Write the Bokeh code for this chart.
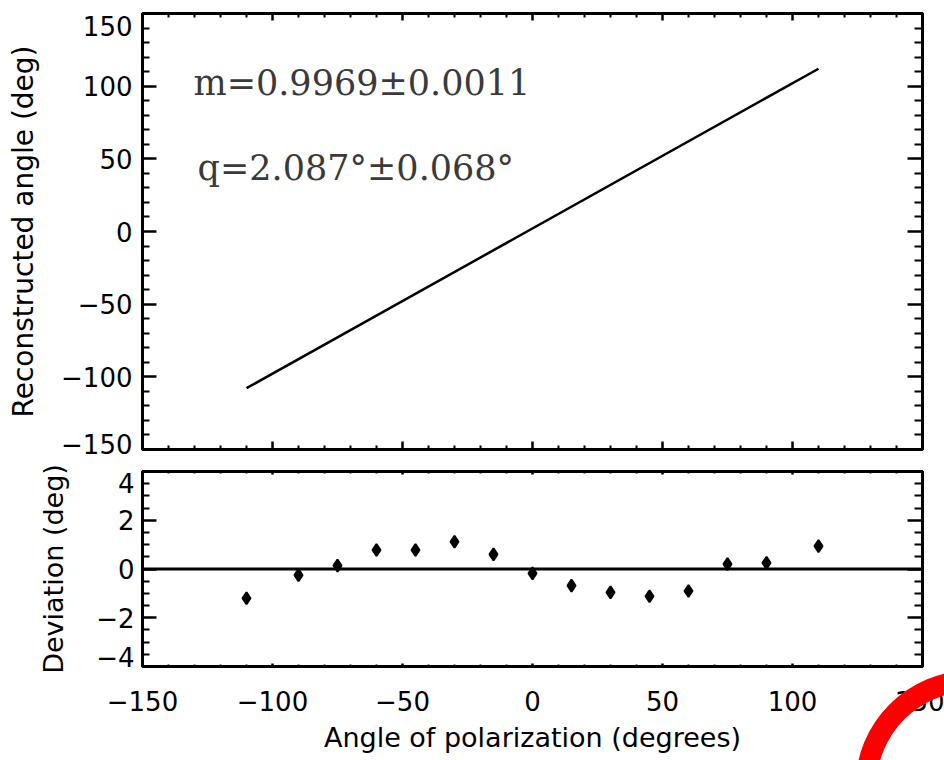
from bokeh.plotting import figure
from bokeh.models import LinearAxis, FixedTicker, Span, Label, Range1d, GridBox
from bokeh.embed import file_html
from bokeh.resources import INLINE

# ---------------- data ----------------
line_x = [-110, 110]
line_y = [-107.8, 112.0]

pol_angle = [-110, -90, -75, -60, -45, -30, -15, 0, 15, 30, 45, 60, 75, 90, 110]
deviation = [-1.20, -0.25, 0.14, 0.78, 0.78, 1.12, 0.60, -0.18, -0.68, -0.96,
             -1.12, -0.90, 0.20, 0.25, 0.94]

x_ticks = [-150, -100, -50, 0, 50, 100, 150]
x_tick_labels = ["\u2212150", "\u2212100", "\u221250", "0", "50", "100", "150"]

top_y_ticks = [-150, -100, -50, 0, 50, 100, 150]
top_y_tick_labels = ["\u2212150", "\u2212100", "\u221250", "0", "50", "100", "150"]
# where the reference prints the tick labels (edge labels are pulled inward)
top_y_label_pos = [-145.9, -100, -50, 0, 50, 100, 141.7]

bot_y_ticks = [-4, -2, 0, 2, 4]
bot_y_tick_labels = ["\u22124", "\u22122", "0", "2", "4"]
bot_y_label_pos = [-3.63, -2, 0, 2, 3.51]

fit_text = ["m=0.9969\u00b10.0011", "q=2.087\u00b0\u00b10.068\u00b0"]

x_title = "Angle of polarization (degrees)"
top_y_title = "Reconstructed angle (deg)"
bot_y_title = "Deviation (deg)"

# minor ticks
x_minor = [v for v in range(-150, 151, 10) if v % 50 != 0]
top_y_minor = [v for v in range(-150, 151, 10) if v % 50 != 0]
bot_y_minor = [v / 2 for v in range(-8, 9) if v % 4 != 0]

TICK_FONT = "DejaVu Sans"
TITLE_FONT = "DejaVu Sans"
TICK_SIZE = "26px"


def tick_axis(p, loc, ticks, minor, major_in, minor_in):
    """Axis that only draws inward tick marks (no labels)."""
    ax = LinearAxis(ticker=FixedTicker(ticks=ticks, minor_ticks=minor))
    ax.axis_line_color = None
    ax.major_tick_in = major_in
    ax.major_tick_out = 0
    ax.minor_tick_in = minor_in
    ax.minor_tick_out = 0
    ax.major_tick_line_width = 2.5
    ax.minor_tick_line_width = 2
    ax.major_tick_line_color = "black"
    ax.minor_tick_line_color = "black"
    ax.major_label_overrides = {t: "" for t in ticks}
    ax.major_label_text_font_size = "1px"
    ax.major_label_standoff = 0
    p.add_layout(ax, loc)
    return ax


def label_axis(p, loc, pos, labels, standoff, title, title_size, title_standoff):
    """Axis that only prints tick labels and the axis title."""
    ax = LinearAxis(ticker=FixedTicker(ticks=pos, minor_ticks=[]))
    ax.axis_line_color = None
    ax.major_tick_in = 0
    ax.major_tick_out = 0
    ax.minor_tick_in = 0
    ax.minor_tick_out = 0
    ax.major_tick_line_color = None
    ax.minor_tick_line_color = None
    ax.major_label_overrides = dict(zip(pos, labels))
    ax.major_label_text_font = TICK_FONT
    ax.major_label_text_font_size = TICK_SIZE
    ax.major_label_text_color = "black"
    ax.major_label_standoff = standoff
    ax.axis_label = title
    ax.axis_label_text_font = TITLE_FONT
    ax.axis_label_text_font_size = title_size
    ax.axis_label_text_font_style = "normal"
    ax.axis_label_text_color = "black"
    ax.axis_label_standoff = title_standoff
    p.add_layout(ax, loc)
    return ax


def base_fig(height, y_range, top, bottom):
    p = figure(width=944, height=height, x_range=(-150, 150), y_range=y_range,
               output_backend="svg", toolbar_location=None,
               x_axis_location=None, y_axis_location=None,
               min_border_left=142, min_border_right=22,
               min_border_top=top, min_border_bottom=bottom)
    p.xgrid.visible = False
    p.ygrid.visible = False
    p.outline_line_color = "black"
    p.outline_line_width = 3
    p.background_fill_color = "white"
    p.border_fill_color = "white"
    return p


# ---------------- top panel ----------------
p1 = base_fig(460, (-150, 150), 13, 11)
tick_axis(p1, "left", top_y_ticks, top_y_minor, 14, 7)
label_axis(p1, "left", top_y_label_pos, top_y_tick_labels, 10,
           top_y_title, "28px", 18)
tick_axis(p1, "right", top_y_ticks, top_y_minor, 15, 8)
tick_axis(p1, "above", x_ticks, x_minor, 7, 4)
tick_axis(p1, "below", x_ticks, x_minor, 8, 4)

p1.line(line_x, line_y, line_width=2.5, line_color="black")

p1.add_layout(Label(x=-130.4, y=102, text=fit_text[0], text_font="DejaVu Serif",
                    text_font_size="35px", text_color="#3a3a3a",
                    text_baseline="alphabetic", text_align="left"))
p1.add_layout(Label(x=-128.8, y=44, text=fit_text[1], text_font="DejaVu Serif",
                    text_font_size="35px", text_color="#3a3a3a",
                    text_baseline="alphabetic", text_align="left"))

# ---------------- bottom panel ----------------
p2 = base_fig(300, (-4, 4), 11, 94)
tick_axis(p2, "left", bot_y_ticks, bot_y_minor, 14, 7)
label_axis(p2, "left", bot_y_label_pos, bot_y_tick_labels, 8,
           bot_y_title, "27px", 24)
tick_axis(p2, "right", bot_y_ticks, bot_y_minor, 15, 8)
tick_axis(p2, "above", x_ticks, x_minor, 3, 2)
tick_axis(p2, "below", x_ticks, x_minor, 3, 2)
label_axis(p2, "below", x_ticks, x_tick_labels, 24, x_title, "27px", 8)

p2.add_layout(Span(location=0, dimension="width", line_color="black", line_width=3))

p2.scatter(pol_angle, deviation, marker="diamond", size=12, fill_color="black",
           line_color="black", line_width=2)

# ---------------- red arc overlay (decoration over bottom-right corner) ----------------
ARC_CX, ARC_CY, ARC_RIN, ARC_ROUT = 971, 326, 95, 116
p3 = figure(width=944, height=300, x_range=Range1d(0, 944), y_range=Range1d(300, 0),
            output_backend="svg", toolbar_location=None,
            x_axis_location=None, y_axis_location=None, min_border=0)
p3.frame_align = False
p3.xgrid.visible = False
p3.ygrid.visible = False
p3.outline_line_color = None
p3.background_fill_alpha = 0
p3.border_fill_alpha = 0
p3.annulus(x=[ARC_CX], y=[ARC_CY], inner_radius=ARC_RIN, outer_radius=ARC_ROUT,
           fill_color="#ff0000", line_color=None)

layout = GridBox(children=[(p1, 0, 0), (p2, 1, 0), (p3, 1, 0)], spacing=0)
open("out.html", "w").write(file_html(layout, INLINE))
